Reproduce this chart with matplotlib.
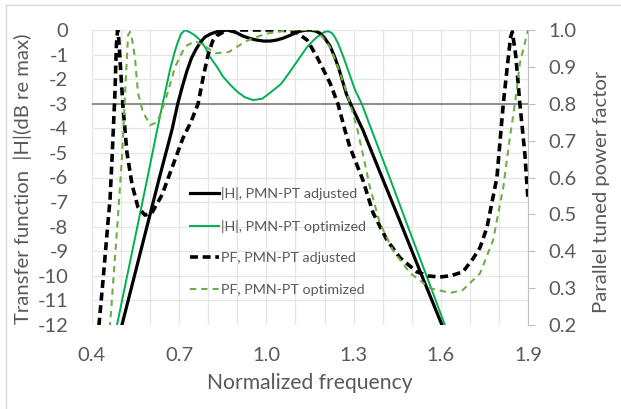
import matplotlib
matplotlib.use("Agg")
import matplotlib.pyplot as plt
from matplotlib.lines import Line2D
import numpy as np

plt.rcParams['font.family'] = ['Lato', 'DejaVu Sans']
plt.rcParams['axes.unicode_minus'] = False

# |H| in dB, PMN-PT adjusted (black solid)
f_h_adj = [0.49, 0.503, 0.546, 0.589, 0.632, 0.675, 0.695, 0.712, 0.727, 0.742, 0.757, 0.773,
           0.789, 0.81, 0.83, 0.864, 0.895, 0.92, 0.945, 0.967, 0.99, 1.012, 1.035, 1.058,
           1.081, 1.1, 1.116, 1.133, 1.15, 1.168, 1.184, 1.2, 1.219, 1.235, 1.25, 1.275,
           1.295, 1.332, 1.398, 1.467, 1.535, 1.604, 1.62]
h_adj = [-12.6, -12, -10, -8, -6, -4.07, -3.0, -2.25, -1.65, -1.15, -0.8, -0.5,
         -0.28, -0.15, -0.07, 0, -0.1, -0.25, -0.35, -0.41, -0.45, -0.45, -0.41, -0.33,
         -0.22, -0.12, -0.05, -0.01, 0, -0.04, -0.13, -0.32, -0.65, -1.1, -1.6, -2.6,
         -3.15, -4.07, -6.0, -8.0, -10.0, -12.0, -12.5]

# |H| in dB, PMN-PT optimized (green solid)
f_h_opt = [0.475, 0.486, 0.521, 0.556, 0.591, 0.624, 0.643, 0.656, 0.668, 0.682, 0.694, 0.707,
           0.72, 0.735, 0.752, 0.771, 0.79, 0.806, 0.83, 0.851, 0.875, 0.899, 0.925, 0.954,
           0.985, 1.012, 1.05, 1.081, 1.11, 1.14, 1.165, 1.184, 1.2, 1.212, 1.225, 1.235,
           1.246, 1.262, 1.277, 1.305, 1.328, 1.362, 1.424, 1.487, 1.551, 1.614, 1.63]
h_opt = [-12.6, -12, -10, -8, -6, -4.07, -3.0, -2.3, -1.63, -1.0, -0.53, -0.15,
         0, -0.08, -0.2, -0.4, -0.72, -1.1, -1.5, -1.9, -2.22, -2.5, -2.73, -2.85,
         -2.8, -2.56, -2.2, -1.7, -1.2, -0.69, -0.38, -0.2, -0.08, -0.05, -0.12, -0.28,
         -0.53, -1.0, -1.5, -2.44, -3.0, -4.07, -6.0, -8.0, -10.0, -12.0, -12.5]

# power factor, PMN-PT adjusted (black dashed)
f_pf_adj = [0.415, 0.424, 0.44, 0.455, 0.462, 0.469, 0.479, 0.484, 0.488, 0.492, 0.496, 0.507,
            0.52, 0.538, 0.558, 0.582, 0.606, 0.641, 0.675, 0.713, 0.74, 0.765, 0.782, 0.799,
            0.815, 0.83, 0.864, 0.95, 1.05, 1.1, 1.14, 1.174, 1.219, 1.246, 1.27, 1.287,
            1.332, 1.367, 1.415, 1.46, 1.518, 1.557, 1.597, 1.636, 1.676, 1.711, 1.735, 1.759,
            1.793, 1.815, 1.83, 1.84, 1.846, 1.858, 1.872, 1.889, 1.9]
pf_adj = [0.13, 0.2, 0.34, 0.479, 0.54, 0.653, 0.83, 0.96, 1.0, 0.975, 0.924, 0.788,
          0.669, 0.58, 0.52, 0.498, 0.504, 0.553, 0.626, 0.707, 0.75, 0.8, 0.87, 0.932,
          0.97, 0.985, 1.0, 1.0, 1.0, 0.995, 0.973, 0.927, 0.856, 0.80, 0.729, 0.683,
          0.593, 0.504, 0.43, 0.382, 0.344, 0.333, 0.33, 0.334, 0.344, 0.38, 0.41, 0.465,
          0.6, 0.8, 0.91, 0.98, 0.995, 0.93, 0.8, 0.666, 0.54]

# power factor, PMN-PT optimized (green dashed)
f_pf_opt = [0.455, 0.462, 0.476, 0.489, 0.503, 0.514, 0.524, 0.531, 0.539, 0.548, 0.558, 0.575,
            0.6, 0.624, 0.651, 0.686, 0.72, 0.755, 0.79, 0.825, 0.87, 0.91, 0.944, 1.0,
            1.08, 1.174, 1.219, 1.246, 1.27, 1.288, 1.311, 1.333, 1.356, 1.39, 1.435, 1.494,
            1.563, 1.632, 1.676, 1.735, 1.78, 1.815, 1.838, 1.855, 1.872, 1.9]
pf_opt = [0.13, 0.2, 0.35, 0.49, 0.653, 0.83, 0.986, 0.995, 0.97, 0.924, 0.83, 0.778,
          0.742, 0.75, 0.805, 0.9, 0.955, 0.97, 0.955, 0.937, 0.94, 0.96, 0.975, 0.99,
          1.0, 1.0, 0.954, 0.9, 0.845, 0.80, 0.737, 0.66, 0.574, 0.477, 0.403, 0.341,
          0.30, 0.287, 0.295, 0.34, 0.43, 0.574, 0.71, 0.80, 0.91, 1.0]

labels = ['|H|, PMN-PT adjusted', '|H|, PMN-PT optimized',
          'PF, PMN-PT adjusted', 'PF, PMN-PT optimized']
x_ticks = [0.4, 0.7, 1.0, 1.3, 1.6, 1.9]
db_ticks = list(range(-12, 1))
pf_ticks = [0.2, 0.3, 0.4, 0.5, 0.6, 0.7, 0.8, 0.9, 1.0]

txt = '#595959'
W, H = 621, 409
fig = plt.figure(figsize=(W / 100, H / 100), dpi=100)
ax = fig.add_axes([92 / W, 1 - 325 / H, 436 / W, 295 / H])
ax2 = ax.twinx()

# grid
for xv in np.arange(0.4, 1.91, 0.1):
    ax.axvline(xv, color='#E6E6E6', lw=0.9, zorder=0)
for yv in db_ticks:
    ax.axhline(yv, color='#E6E6E6', lw=0.9, zorder=0)
ax.axhline(-3, color='#8C8C8C', lw=1.4, zorder=1)

l1, = ax.plot(f_h_adj, h_adj, color='black', lw=2.3, zorder=3)
l2, = ax.plot(f_h_opt, h_opt, color='#00B050', lw=1.4, zorder=2)
l3, = ax2.plot(f_pf_adj, pf_adj, color='black', lw=2.6, dashes=(2.2, 1.3))
l4, = ax2.plot(f_pf_opt, pf_opt, color='#70AD47', lw=1.5, dashes=(3.0, 2.4))

ax.set_xlim(0.4, 1.9)
ax.set_ylim(-12, 0)
ax2.set_ylim(0.2, 1.0)
ax.set_xticks(x_ticks)
ax.set_xticklabels(['%.1f' % v for v in x_ticks])
ax.set_yticks(db_ticks)
ax2.set_yticks(pf_ticks)
ax2.set_yticklabels(['%.1f' % v for v in pf_ticks])

for a in (ax, ax2):
    for s in a.spines.values():
        s.set_visible(False)
ax2.spines['right'].set_visible(True)
ax2.spines['right'].set_color('#BFBFBF')

ax.tick_params(axis='both', length=0, labelsize=14.5, colors=txt)
ax.tick_params(axis='y', pad=17)
ax.tick_params(axis='x', pad=16)
ax2.tick_params(axis='y', length=5, color='#BFBFBF', labelsize=14.5,
                labelcolor=txt, pad=10)

ax.set_xlabel('Normalized frequency', fontsize=15.2, color=txt, labelpad=6)
ax.set_ylabel('Transfer function  |H|(dB re max)', fontsize=14.6, color=txt)
ax.yaxis.set_label_coords(-0.137, 0.495)
ax2.set_ylabel('Parallel tuned power factor', fontsize=14.6, color=txt)
ax2.yaxis.set_label_coords(1.149, 0.451)

leg = ax2.legend([l1, l2, l3, l4], labels, loc='upper left',
                 bbox_to_anchor=((190 - 92) / 436, (325 - 187) / 295),
                 frameon=False, fontsize=10.3, labelcolor=txt, handlelength=2.0,
                 handletextpad=0.2, labelspacing=1.38, borderpad=0, borderaxespad=0)

# outer chart border (only top and left fall inside the picture)
fig.add_artist(Line2D([6 / W, 1], [1 - 5 / H, 1 - 5 / H], color='#D9D9D9', lw=1))
fig.add_artist(Line2D([6 / W, 6 / W], [0, 1 - 5 / H], color='#D9D9D9', lw=1))

fig.savefig('out.png', dpi=100)
